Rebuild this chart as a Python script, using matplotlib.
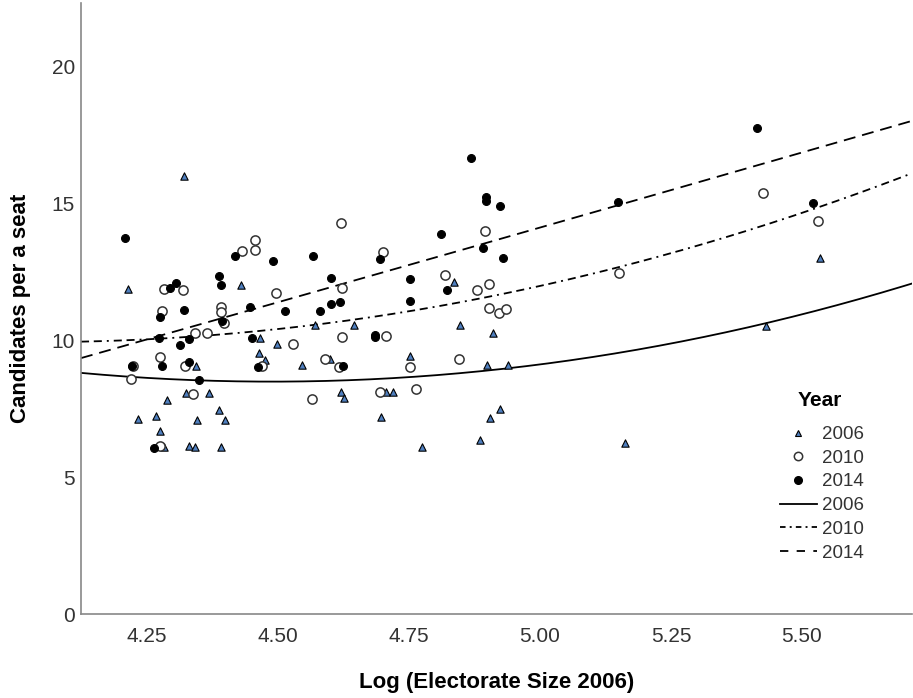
import numpy as np
import matplotlib
matplotlib.use("Agg")
import matplotlib.pyplot as plt
from matplotlib.lines import Line2D

# ---------------- data ----------------
x_2006 = [4.321, 4.214, 4.344, 4.288, 4.324, 4.369, 4.388, 4.233, 4.268, 4.274,
          4.346, 4.399, 4.282, 4.331, 4.342, 4.391, 4.430, 4.571, 4.466, 4.499,
          4.464, 4.476, 4.545, 4.600, 4.620, 4.626, 4.645, 4.836, 4.847, 4.911,
          4.751, 4.899, 4.938, 4.707, 4.719, 4.696, 4.924, 4.905, 4.886, 4.775,
          5.534, 5.432, 5.162]
y_2006 = [15.99, 11.85, 9.06, 7.81, 8.08, 8.08, 7.45, 7.12, 7.23, 6.69,
          7.08, 7.08, 6.08, 6.14, 6.10, 6.08, 12.00, 10.55, 10.08, 9.85,
          9.51, 9.27, 9.09, 9.31, 8.09, 7.87, 10.55, 12.13, 10.55, 10.27,
          9.43, 9.09, 9.09, 8.09, 8.09, 7.20, 7.47, 7.14, 6.35, 6.11,
          12.98, 10.52, 6.23]

x_2010 = [4.282, 4.318, 4.278, 4.391, 4.391, 4.397, 4.342, 4.364, 4.224, 4.275,
          4.323, 4.219, 4.337, 4.274, 4.620, 4.457, 4.457, 4.431, 4.622, 4.497,
          4.623, 4.529, 4.469, 4.590, 4.616, 4.564, 4.700, 4.896, 4.819, 4.880,
          4.903, 4.903, 4.922, 4.935, 4.707, 4.845, 4.752, 4.695, 4.763, 5.426,
          5.531, 5.151]
y_2010 = [11.85, 11.82, 11.07, 11.22, 11.04, 10.63, 10.27, 10.24, 9.05, 9.37,
          9.05, 8.58, 8.02, 6.14, 14.28, 13.65, 13.28, 13.26, 11.89, 11.73,
          10.12, 9.85, 9.05, 9.31, 9.03, 7.85, 13.23, 13.99, 12.37, 11.82,
          12.03, 11.18, 10.97, 11.12, 10.15, 9.31, 9.03, 8.09, 8.20, 15.38,
          14.35, 12.43]

x_2014 = [4.208, 4.294, 4.305, 4.387, 4.391, 4.274, 4.321, 4.393, 4.272, 4.312,
          4.331, 4.221, 4.278, 4.331, 4.350, 4.264, 4.417, 4.491, 4.567, 4.601,
          4.447, 4.513, 4.580, 4.602, 4.619, 4.450, 4.462, 4.624, 4.869, 4.897,
          4.897, 4.924, 4.695, 4.811, 4.892, 4.929, 4.751, 4.752, 4.822, 4.685,
          4.686, 5.415, 5.148, 5.522]
y_2014 = [13.72, 11.89, 12.08, 12.33, 12.00, 10.83, 11.09, 10.70, 10.06, 9.82,
          10.03, 9.05, 9.05, 9.18, 8.54, 6.05, 13.07, 12.90, 13.07, 12.27,
          11.22, 11.07, 11.07, 11.31, 11.40, 10.08, 9.03, 9.06, 16.63, 15.23,
          15.07, 14.89, 12.96, 13.86, 13.37, 13.00, 12.23, 11.44, 11.82, 10.20,
          10.12, 17.73, 15.02, 15.01]

# quadratic fit lines, coefficients in (x - fit_x0): c0 + c1*t + c2*t^2
fit_x0 = 4.124
fit_2006 = [8.80, -1.75, 2.40]
fit_2010 = [9.94, 0.402, 2.19]
fit_2014 = [9.34, 5.41, 0.031]

years = ["2006", "2010", "2014"]
x_ticks = [4.25, 4.50, 4.75, 5.00, 5.25, 5.50]
y_ticks = [0, 5, 10, 15, 20]

# ---------------- styling ----------------
plt.rcParams["lines.scale_dashes"] = False
FONT = ["Liberation Sans", "DejaVu Sans"]
plt.rcParams["font.family"] = FONT

W, H = 913, 698
fig = plt.figure(figsize=(W / 100, H / 100), dpi=100)
ax = fig.add_axes([81 / W, 1 - 614 / H, (912 - 81) / W, (614 - 3) / H])

xlim = (4.124, 5.710)
ax.set_xlim(*xlim)
ax.set_ylim(0, 22.3)

# scatter points
ax.scatter(x_2006, y_2006, marker="^", s=28, facecolor="#4f7fbf",
           edgecolor="black", linewidth=0.8, zorder=3)
ax.scatter(x_2010, y_2010, marker="o", s=44, facecolor="white",
           edgecolor="#333333", linewidth=1.1, zorder=3)
ax.scatter(x_2014, y_2014, marker="o", s=32, facecolor="black",
           edgecolor="black", linewidth=0.8, zorder=4)

# fit lines
xs = np.linspace(xlim[0], xlim[1], 300)
def curve(c):
    t = xs - fit_x0
    return c[0] + c[1] * t + c[2] * t ** 2

dash_2010 = (0, (5.8, 3.4, 5.8, 3.6, 1.4, 3.6))
dash_2014 = (0, (8.6, 5.0))
ax.plot(xs, curve(fit_2006), color="black", lw=1.3, zorder=2)
ax.plot(xs, curve(fit_2010), color="black", lw=1.3, linestyle=dash_2010, zorder=2)
ax.plot(xs, curve(fit_2014), color="black", lw=1.3, linestyle=dash_2014, zorder=2)

# axes
ax.set_xticks(x_ticks)
ax.set_xticklabels([f"{v:.2f}" for v in x_ticks])
ax.set_yticks(y_ticks)
ax.set_yticklabels([str(v) for v in y_ticks])
ax.tick_params(axis="both", length=0, labelsize=15, labelcolor="#333333")
ax.tick_params(axis="x", pad=9)
ax.tick_params(axis="y", pad=4.5)
for s in ["top", "right"]:
    ax.spines[s].set_visible(False)
for s in ["left", "bottom"]:
    ax.spines[s].set_color("#888888")
    ax.spines[s].set_linewidth(1.2)

ax.set_xlabel("Log (Electorate Size 2006)", fontsize=16, fontweight="bold")
ax.set_ylabel("Candidates per a seat", fontsize=16, fontweight="bold")
ax.xaxis.set_label_coords(0.5, -(672 - 614) / 611)
ax.yaxis.set_label_coords(-(81 - 31) / 831, 0.5)

# legend
fig.text(798 / W, 1 - 400 / H, "Year", fontsize=15, fontweight="bold",
         ha="left", va="center")
handles = [
    Line2D([], [], linestyle="none", marker="^", markersize=5,
           markerfacecolor="#4f7fbf", markeredgecolor="black", markeredgewidth=0.8),
    Line2D([], [], linestyle="none", marker="o", markersize=6,
           markerfacecolor="white", markeredgecolor="#333333", markeredgewidth=1.1),
    Line2D([], [], linestyle="none", marker="o", markersize=5.5,
           markerfacecolor="black", markeredgecolor="black"),
    Line2D([], [], color="black", lw=1.3),
    Line2D([], [], color="black", lw=1.3, linestyle=(0, (4.0, 3.0, 1.4, 3.0))),
    Line2D([], [], color="black", lw=1.3, linestyle=(0, (6.0, 6.0))),
]
labels = years + years
leg = ax.legend(handles, labels, loc="upper left",
                bbox_to_anchor=(780 / W, 1 - 426 / H), bbox_transform=fig.transFigure,
                frameon=False, fontsize=13.5, handlelength=1.97, handletextpad=0.27,
                labelspacing=0.35, borderpad=0, borderaxespad=0)
for t in leg.get_texts():
    t.set_color("#333333")

fig.savefig("out.png", dpi=100)
